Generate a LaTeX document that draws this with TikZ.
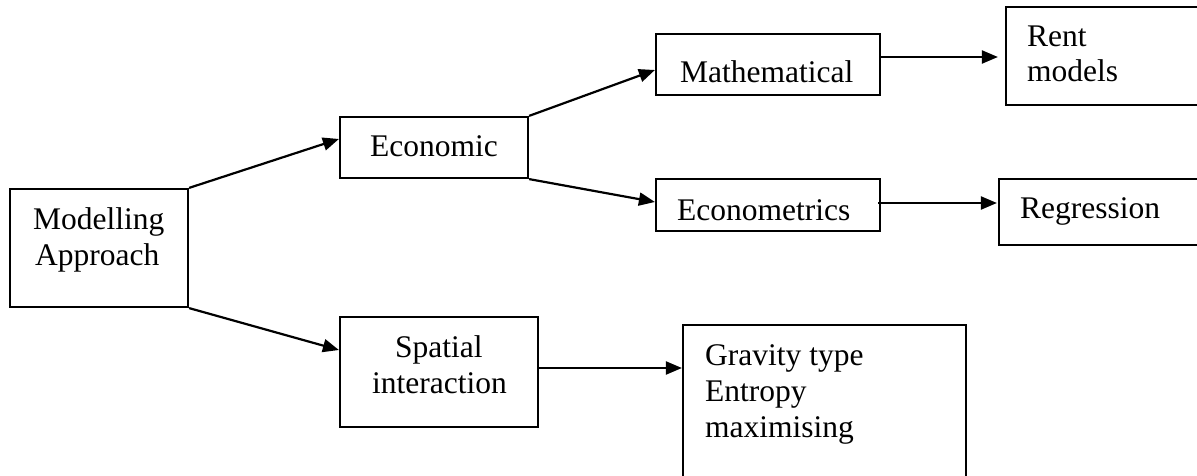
\documentclass[tikz,border=0pt]{standalone}
\usepackage{fontspec}
\setmainfont{Liberation Serif}
\usetikzlibrary{arrows.meta,calc}
\begin{document}
\begin{tikzpicture}[x=1pt,y=-1pt,
  box/.style={draw=black,line width=2.2pt,inner sep=0pt,minimum width=#1},
  lbl/.style={anchor=base west,inner sep=0pt,font=\fontsize{31.5}{36}\selectfont},
  conn/.style={line width=2.2pt,-{Triangle[length=16pt,width=13pt]}}]
\useasboundingbox (0,0) rectangle (1197,476);
\fill[white] (0,0) rectangle (1197,476);
% boxes
\node[box=178pt,minimum height=118pt] (mod) at (99,248) {};
\node[box=188pt,minimum height=61pt] (econ) at (434,147.5) {};
\node[box=224pt,minimum height=61pt] (math) at (768,64.5) {};
\node[box=224pt,minimum height=52pt] (emet) at (768,205) {};
\node[box=199pt,minimum height=98pt] (rent) at (1105.5,56) {};
\node[box=206pt,minimum height=66pt] (regr) at (1102,212) {};
\node[box=198pt,minimum height=110pt] (spat) at (439,372) {};
\node[box=283pt,minimum height=160pt] (grav) at (824.5,405) {};
% labels
\node[lbl] (tmod1) at (33,229) {Modelling};
\node[lbl] (tmod2) at (35,265) {Approach};
\node[lbl] (tecon) at (370,157) {Economic};
\node[lbl] (tmath) at (680,83) {Mathematical};
\node[lbl] (temet) at (677,220) {Econometrics};
\node[lbl] (trent1) at (1027,47) {Rent};
\node[lbl] (trent2) at (1027,82) {models};
\node[lbl] (tregr) at (1020,218) {Regression};
\node[lbl] (tspat1) at (395,357) {Spatial};
\node[lbl] (tspat2) at (372,393) {interaction};
\node[lbl] (tgrav1) at (705,365) {Gravity type};
\node[lbl] (tgrav2) at (705,401) {Entropy};
\node[lbl] (tgrav3) at (705,437) {maximising};
% connectors
\draw[conn] (mod.north east) -- ($(econ.west)+(0,-8.5)$);
\draw[conn] (mod.south east) -- ($(spat.west)+(0,-22)$);
\draw[conn] (econ.north east) -- ($(math.west)+(0,5.5)$);
\draw[conn] (econ.south east) -- ($(emet.west)+(0,-3)$);
\draw[conn] ($(math.east)+(0,-7.5)$) -- ($(rent.west)+(-7,1)$);
\draw[conn] ($(emet.east)+(-3,-2)$) -- ($(regr.west)+(-1,-9)$);
\draw[conn] ($(spat.east)+(0,-4)$) -- ($(grav.west)+(0,-37)$);
\end{tikzpicture}
\end{document}
